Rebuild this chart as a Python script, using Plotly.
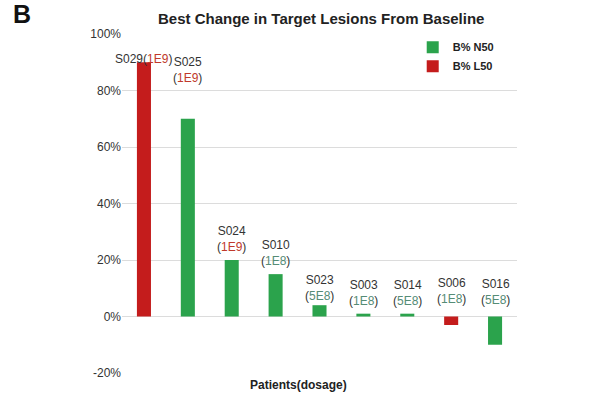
import plotly.graph_objects as go

patients = ["S029", "S025", "S024", "S010", "S023", "S003", "S014", "S006", "S016"]
dosage = ["1E9", "1E9", "1E9", "1E8", "5E8", "1E8", "5E8", "1E8", "5E8"]
change = [90, 70, 20, 15, 4, 1, 1, -3, -10]
group = ["L50", "N50", "N50", "N50", "N50", "N50", "N50", "L50", "N50"]
y_ticks = [-20, 0, 20, 40, 60, 80, 100]

GREEN = "#2ba34c"
RED = "#c41c1c"
dose_color = {"1E9": "#c0392b", "1E8": "#558c76", "5E8": "#558c76"}

fig = go.Figure()
for name, key, col in [("B% N50", "N50", GREEN), ("B% L50", "L50", RED)]:
    fig.add_trace(go.Bar(
        x=patients,
        y=[v if g == key else None for v, g in zip(change, group)],
        name=f"<b>{name}</b>", marker_color=col, marker_line_width=0,
    ))

extra_shift = {"S029": -10, "S025": 28, "S023": -4, "S006": 5, "S016": 4}
for p, d, v in zip(patients, dosage, change):
    dose = f"(<span style='color:{dose_color[d]}'>{d}</span>)"
    txt = f"{p}{dose}" if p == "S029" else f"{p}<br>{dose}"
    fig.add_annotation(x=p, y=max(v, 0), text=txt, showarrow=False,
                       yanchor="bottom", yshift=4 + extra_shift.get(p, 0),
                       font=dict(size=12, color="#333"))

fig.add_annotation(text="<b>B</b>", x=-0.253, y=1.06, xref="paper", yref="paper",
                   xanchor="center", yanchor="middle", showarrow=False,
                   font=dict(size=25, color="#111"))
fig.add_annotation(text="<b>Best Change in Target Lesions From Baseline</b>",
                   x=0.504, y=1.047, xref="paper", yref="paper",
                   xanchor="center", yanchor="middle", showarrow=False,
                   font=dict(size=15, color="#222"))
fig.add_annotation(text="<b>Patients(dosage)</b>", x=0.446, y=-0.035,
                   xref="paper", yref="paper", xanchor="center", yanchor="middle",
                   showarrow=False, font=dict(size=12, color="#222"))

fig.update_layout(
    width=600, height=400,
    margin=dict(l=122, r=83, t=34, b=27),
    paper_bgcolor="white", plot_bgcolor="white",
    barmode="overlay", bargap=0.68,
    font=dict(family="Liberation Sans, Arial", color="#333"),
    showlegend=True,
    legend=dict(x=0.736, y=1.004, xanchor="left", yanchor="top",
                bgcolor="rgba(0,0,0,0)", font=dict(size=11, color="#222"),
                itemwidth=30),
    xaxis=dict(range=[-0.5, 8.5], showticklabels=False, showgrid=False,
               zeroline=False, showline=False, ticks=""),
    yaxis=dict(range=[-20, 100], tickvals=y_ticks,
               ticktext=[f"{t}%" for t in y_ticks],
               gridcolor="#dcdcdc", gridwidth=1, zeroline=False,
               tickfont=dict(size=12, color="#333"), ticks=""),
)
fig.write_html("out.html", config={"displayModeBar": False},
               post_script="document.body.style.margin='0px';")
